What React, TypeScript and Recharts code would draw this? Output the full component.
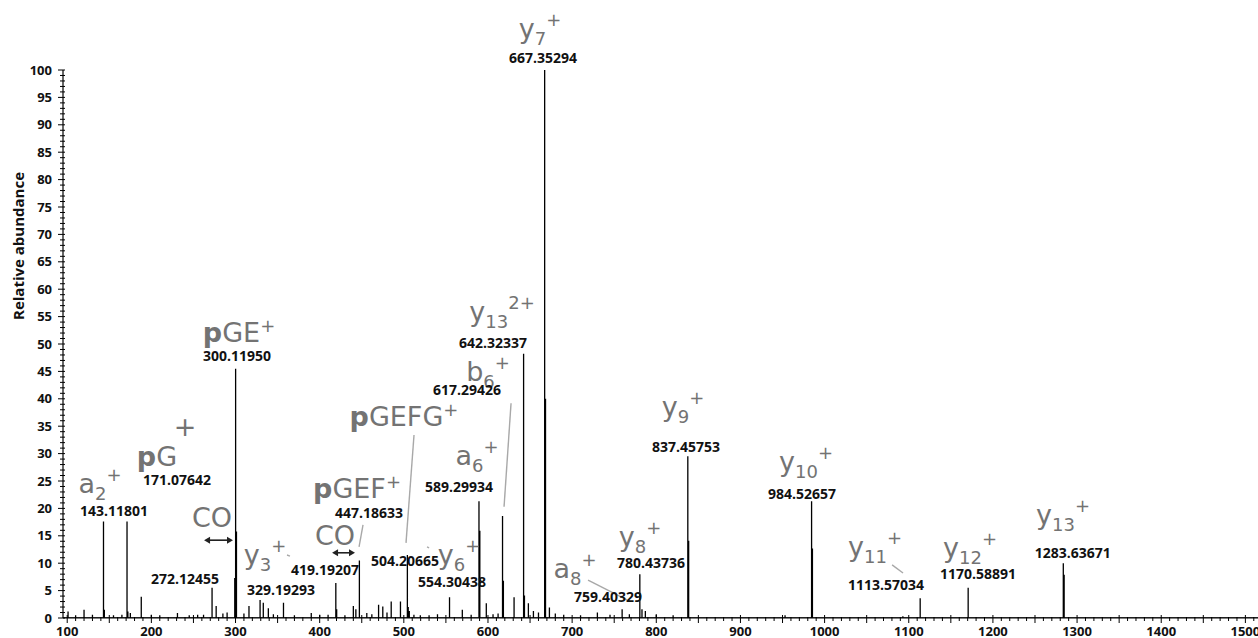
import React from "react";
import { ComposedChart, Line, XAxis, YAxis, ReferenceDot, ReferenceLine } from "recharts";

// m/z and relative abundance of the centroid peaks
const peakMz = [
  101, 110, 120, 130, 143.118, 144.12, 155, 165, 171.076, 172.08, 175, 188, 200, 210, 231,
  245, 255, 262, 272.125, 277, 285, 290, 299.1, 300.12, 301.12, 310, 316, 329.19, 333, 339,
  345, 357, 370, 390, 400, 410, 419.19, 420.2, 430, 440, 443, 447.19, 456, 462, 470, 475,
  480, 485, 496, 504.21, 505.21, 506.5, 512, 519.6, 530, 540, 554.3, 569.5, 580, 589.3,
  590.3, 598, 606, 612, 617.29, 618.3, 631, 642.32, 643.33, 648, 654, 660, 667.35, 668.36,
  673, 680, 690, 710, 730, 745, 759.4, 768, 780.44, 783, 787, 800, 820, 837.46, 838.46,
  953, 984.53, 985.53, 1093, 1113.57, 1170.59, 1283.64, 1284.64,
];
const peakAbundance = [
  1.2, 0.5, 1.5, 0.6, 17.6, 1.5, 0.5, 0.6, 17.6, 1.2, 0.9, 3.9, 0.6, 0.5, 0.9,
  0.5, 0.6, 0.6, 5.5, 2.2, 0.8, 1.0, 7.3, 45.5, 15.8, 0.8, 2.2, 3.3, 2.8, 1.8,
  0.7, 2.8, 0.5, 0.9, 0.6, 0.6, 6.4, 1.6, 0.5, 2.2, 1.6, 10.5, 0.9, 0.7, 2.4, 2.1,
  1.0, 3.0, 3.0, 11.5, 2.0, 1.3, 0.6, 0.5, 0.5, 0.7, 3.8, 1.5, 0.6, 21.3,
  15.9, 2.7, 0.7, 0.8, 18.6, 6.8, 3.8, 48.2, 4.1, 2.7, 1.3, 1.0, 100, 40,
  1.9, 0.8, 0.6, 0.5, 1.0, 0.6, 1.6, 0.7, 8.0, 1.6, 1.3, 0.7, 0.5, 29.5, 14.1,
  0.5, 21.3, 12.7, 0.3, 3.6, 5.5, 10.0, 7.9,
];

const xLabelTicks = [100, 200, 300, 400, 500, 600, 700, 800, 900, 1000, 1100, 1200, 1300, 1400, 1500];
const yLabelTicks = [0, 5, 10, 15, 20, 25, 30, 35, 40, 45, 50, 55, 60, 65, 70, 75, 80, 85, 90, 95, 100];

type Ion = { bold?: string; base: string; sub?: string; sup?: string; mz: number; ab: number };

// fragment ion names, placed in data units (m/z, abundance)
const ionLabels: Ion[] = [
  { base: "y", sub: "7", sup: "+", mz: 661.8, ab: 107.5 },
  { base: "a", sub: "2", sup: "+", mz: 139, ab: 24.6 },
  { bold: "p", base: "G", mz: 206.7, ab: 29.4 },
  { base: "+", mz: 240, ab: 34.9 },
  { base: "CO", mz: 272, ab: 18.4 },
  { bold: "p", base: "GE", sup: "+", mz: 304.2, ab: 52.0 },
  { base: "y", sub: "3", sup: "+", mz: 335, ab: 11.5 },
  { base: "CO", mz: 418.2, ab: 15.1 },
  { bold: "p", base: "GEF", sup: "+", mz: 444.4, ab: 23.7 },
  { bold: "p", base: "GEFG", sup: "+", mz: 500.2, ab: 36.7 },
  { base: "y", sub: "6", sup: "+", mz: 565.6, ab: 11.5 },
  { base: "a", sub: "6", sup: "+", mz: 587, ab: 29.7 },
  { base: "b", sub: "6", sup: "+", mz: 600, ab: 45.0 },
  { base: "y", sub: "13", sup: "2+", mz: 616.7, ab: 56.0 },
  { base: "y", sub: "9", sup: "+", mz: 831.8, ab: 38.5 },
  { base: "y", sub: "8", sup: "+", mz: 780.7, ab: 14.8 },
  { base: "a", sub: "8", sup: "+", mz: 703.4, ab: 9.1 },
  { base: "y", sub: "10", sup: "+", mz: 978, ab: 28.5 },
  { base: "y", sub: "11", sup: "+", mz: 1060, ab: 13.0 },
  { base: "y", sub: "12", sup: "+", mz: 1172.8, ab: 12.8 },
  { base: "y", sub: "13", sup: "+", mz: 1283.4, ab: 18.8 },
];

const mzLabels = [
  { text: "667.35294", mz: 665.4, ab: 102.2 },
  { text: "143.11801", mz: 155.6, ab: 19.5 },
  { text: "171.07642", mz: 230.5, ab: 25.2 },
  { text: "272.12455", mz: 240, ab: 7.1 },
  { text: "300.11950", mz: 301.8, ab: 47.8 },
  { text: "329.19293", mz: 354, ab: 5.1 },
  { text: "419.19207", mz: 406.4, ab: 8.8 },
  { text: "447.18633", mz: 458.6, ab: 19.2 },
  { text: "504.20665", mz: 501.4, ab: 10.4 },
  { text: "554.30438", mz: 557.3, ab: 6.6 },
  { text: "589.29934", mz: 565.6, ab: 23.9 },
  { text: "617.29426", mz: 575, ab: 41.6 },
  { text: "642.32337", mz: 606, ab: 50.2 },
  { text: "759.40329", mz: 742.7, ab: 3.8 },
  { text: "780.43736", mz: 793.8, ab: 10.0 },
  { text: "837.45753", mz: 835.3, ab: 31.2 },
  { text: "984.52657", mz: 973.2, ab: 22.6 },
  { text: "1113.57034", mz: 1073, ab: 6.0 },
  { text: "1170.58891", mz: 1182.3, ab: 8.0 },
  { text: "1283.63671", mz: 1295, ab: 11.9 },
];

const leaders = [
  { x1: 451.5, y1: 17.0, x2: 446.8, y2: 13.0 },
  { x1: 512.1, y1: 33.4, x2: 502.6, y2: 13.7 },
  { x1: 627.4, y1: 39.2, x2: 619.1, y2: 20.3 },
  { x1: 718.9, y1: 6.9, x2: 765.2, y2: 3.3 },
  { x1: 1080.2, y1: 9.7, x2: 1093.2, y2: 8.2 },
  { x1: 361.2, y1: 11.5, x2: 364.7, y2: 11.3 },
  { x1: 527.6, y1: 13.0, x2: 530, y2: 12.8 },
];

const coArrows = [
  { from: 262.6, to: 297.0, ab: 14.2 },
  { from: 414.7, to: 442.0, ab: 11.9 },
];

const spectrum = [
  { mz: 95, ab: 0 },
  ...peakMz.flatMap((mz, i) => [
    { mz, ab: 0 },
    { mz, ab: peakAbundance[i] },
    { mz, ab: 0 },
  ]),
  { mz: 1515, ab: 0 },
];

const xTicks = Array.from({ length: 142 }, (_, i) => 100 + i * 10);
const yTicks = Array.from({ length: 101 }, (_, i) => i);

const tickFont = { fontFamily: "'Open Sans', sans-serif", fontWeight: 700, fontSize: 13, fill: "#111" };

function XTick(props: any) {
  const { x, y, payload } = props;
  const v = payload.value;
  const major = v % 50 === 0;
  return (
    <g>
      <line x1={x} x2={x} y1={major ? y - 3 : y - 1} y2={y + (major ? 5 : 3)} stroke="#000" strokeWidth={1} />
      {xLabelTicks.includes(v) && (
        <text x={x} y={y + 18} textAnchor="middle" {...tickFont}>
          {v}
        </text>
      )}
    </g>
  );
}

function YTick(props: any) {
  const { x, y, payload } = props;
  const v = payload.value;
  const major = yLabelTicks.includes(v);
  return (
    <g>
      <line x1={x - (major ? 5 : 3)} x2={x + 2} y1={y} y2={y} stroke="#000" strokeWidth={1} />
      {major && (
        <text x={x - 11} y={y} dy="0.35em" textAnchor="end" {...tickFont}>
          {v}
        </text>
      )}
    </g>
  );
}

function IonText({ cx, cy, ion }: { cx: number; cy: number; ion: Ion }) {
  return (
    <text x={cx} y={cy} dy="0.35em" textAnchor="middle" fill="#737373" fontFamily="'DejaVu Sans', Verdana, sans-serif" fontSize={27}>
      {ion.bold && <tspan fontWeight="bold">{ion.bold}</tspan>}
      <tspan>{ion.base}</tspan>
      {ion.sub && (
        <tspan fontSize={18} dy={7}>
          {ion.sub}
        </tspan>
      )}
      {ion.sup && (
        <tspan fontSize={18} dy={ion.sub ? -19 : -10}>
          {ion.sup}
        </tspan>
      )}
    </text>
  );
}

function Arrow(props: any) {
  const { x1, y1, x2 } = props;
  const h = 6;
  return (
    <g>
      <line x1={x1 + 2} x2={x2 - 2} y1={y1} y2={y1} stroke="#222" strokeWidth={1.6} />
      <path d={`M${x1},${y1} l${h},-3.5 l0,7 z`} fill="#222" />
      <path d={`M${x2},${y1} l${-h},-3.5 l0,7 z`} fill="#222" />
    </g>
  );
}

export default function App() {
  return (
    <div style={{ position: "absolute", left: 0, top: 0, background: "#fff" }}>
      <ComposedChart width={1258} height={638} data={spectrum} margin={{ top: 70, right: 0, bottom: 0, left: 0 }}>
        <XAxis
          dataKey="mz"
          type="number"
          domain={[95, 1515]}
          allowDataOverflow
          ticks={xTicks}
          interval={0}
          tickLine={false}
          tickSize={0}
          tickMargin={0}
          height={20}
          axisLine={{ stroke: "#000", strokeWidth: 1.2 }}
          tick={(p: any) => <XTick {...p} />}
        />
        <YAxis
          type="number"
          domain={[0, 100]}
          allowDataOverflow
          ticks={yTicks}
          interval={0}
          tickLine={false}
          tickSize={0}
          tickMargin={0}
          width={63}
          axisLine={{ stroke: "#000", strokeWidth: 1.2 }}
          tick={(p: any) => <YTick {...p} />}
          label={{
            content: (p: any) => {
              const vb = p.viewBox || { x: 0, y: 70, width: 63, height: 548 };
              const tx = vb.x + 19;
              const ty = vb.y + vb.height / 2 - 98;
              return (
                <text
                  x={tx}
                  y={ty}
                  transform={`rotate(-90 ${tx} ${ty})`}
                  textAnchor="middle"
                  dy="0.35em"
                  fontFamily="'Open Sans', sans-serif"
                  fontWeight={700}
                  fontSize={15}
                  fill="#111"
                >
                  Relative abundance
                </text>
              );
            },
          }}
        />
        <Line
          dataKey="ab"
          type="linear"
          stroke="#000"
          strokeWidth={1.3}
          dot={false}
          activeDot={false}
          isAnimationActive={false}
        />
        {leaders.map((l, i) => (
          <ReferenceLine
            key={`lead${i}`}
            segment={[
              { x: l.x1, y: l.y1 },
              { x: l.x2, y: l.y2 },
            ]}
            stroke="#a8a8a8"
            strokeWidth={1.4}
            ifOverflow="visible"
          />
        ))}
        {coArrows.map((a, i) => (
          <ReferenceLine
            key={`arr${i}`}
            segment={[
              { x: a.from, y: a.ab },
              { x: a.to, y: a.ab },
            ]}
            ifOverflow="visible"
            shape={(p: any) => <Arrow {...p} />}
          />
        ))}
        {ionLabels.map((ion, i) => (
          <ReferenceDot
            key={`ion${i}`}
            x={ion.mz}
            y={ion.ab}
            r={1}
            ifOverflow="visible"
            shape={(p: any) => <IonText cx={p.cx} cy={p.cy} ion={ion} />}
          />
        ))}
        {mzLabels.map((m, i) => (
          <ReferenceDot
            key={`mz${i}`}
            x={m.mz}
            y={m.ab}
            r={1}
            ifOverflow="visible"
            shape={(p: any) => (
              <text
                x={p.cx}
                y={p.cy}
                dy="0.35em"
                textAnchor="middle"
                fontFamily="'Open Sans', sans-serif"
                fontWeight={700}
                fontSize={14}
                fill="#111"
              >
                {m.text}
              </text>
            )}
          />
        ))}
      </ComposedChart>
    </div>
  );
}
